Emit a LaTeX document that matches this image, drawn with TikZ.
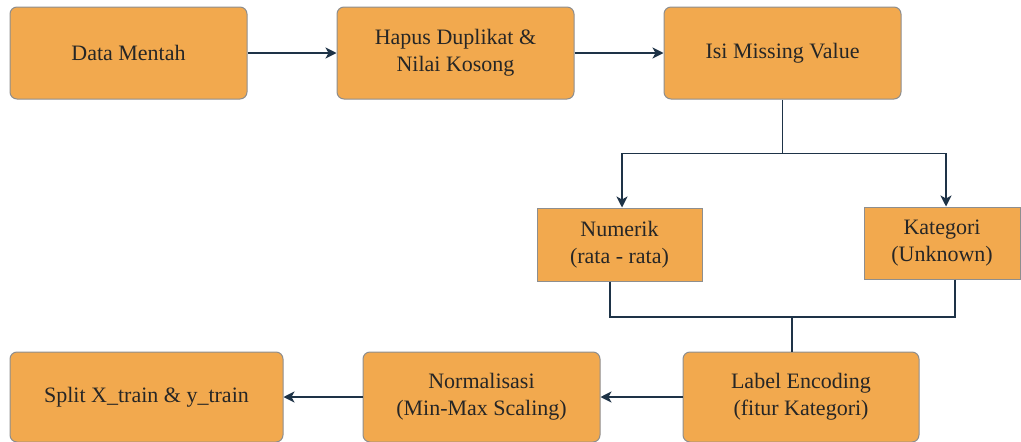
\documentclass[tikz,border=0pt]{standalone}
\usepackage{fontspec}
\setmainfont{Liberation Serif}
\usetikzlibrary{arrows.meta,calc}
\definecolor{boxfill}{HTML}{F2A94E}
\definecolor{boxline}{HTML}{8E8E8E}
\definecolor{arrowc}{HTML}{1E3347}
\definecolor{textc}{HTML}{262626}
\tikzset{
  procbox/.style={draw=boxline, line width=1pt, fill=boxfill, rounded corners=7pt,
    align=center, text=textc, font=\fontsize{22}{27}\selectfont, inner sep=0pt},
  plainbox/.style={procbox, rounded corners=0pt},
  conn/.style={draw=arrowc, line width=1.6pt},
  arr/.style={conn, -{Stealth[length=11pt, width=11pt, inset=3pt]}},
}
\begin{document}
\begin{tikzpicture}[x=1pt, y=-1pt]
\useasboundingbox (0,0) rectangle (1021,442);
\node[procbox, minimum width=237pt, minimum height=92pt] (dm) at (128.5,53) {Data Mentah};
\node[procbox, minimum width=237pt, minimum height=92pt] (hd) at (455.5,53) {Hapus Duplikat \&\\Nilai Kosong};
\node[procbox, minimum width=237pt, minimum height=92pt] (imv) at (782.5,53) {Isi Missing Value};
\node[plainbox, minimum width=165pt, minimum height=73pt] (num) at (619.5,244.5) {Numerik\\(rata - rata)};
\node[plainbox, minimum width=156pt, minimum height=72pt] (kat) at (942,243) {Kategori\\(Unknown)};
\node[procbox, minimum width=236pt, minimum height=90pt] (le) at (801,397) {Label Encoding\\ (fitur Kategori)};
\node[procbox, minimum width=237pt, minimum height=90pt] (nm) at (481.5,397) {Normalisasi\\(Min-Max Scaling)};
\node[procbox, minimum width=273pt, minimum height=90pt] (sp) at (146.5,397) {Split X\_train \& y\_train};

\draw[arr] (dm.east) -- (hd.west);
\draw[arr] (hd.east) -- (imv.west);
\coordinate (split1) at ($(imv.south)+(0,54)$);
\draw[conn] (imv.south) -- (split1);
\draw[arr] (split1) -| ([xshift=2.5pt]num.north);
\draw[arr] (split1) -| ([xshift=4pt]kat.north);
\coordinate (merge) at (792,317);
\draw[conn] ([xshift=-9.5pt]num.south) |- (merge);
\draw[conn] ([xshift=13pt]kat.south) |- (merge);
\draw[conn] (merge) -- (merge |- le.north);
\draw[arr] (le.west) -- (nm.east);
\draw[arr] (nm.west) -- (sp.east);
\end{tikzpicture}
\end{document}
